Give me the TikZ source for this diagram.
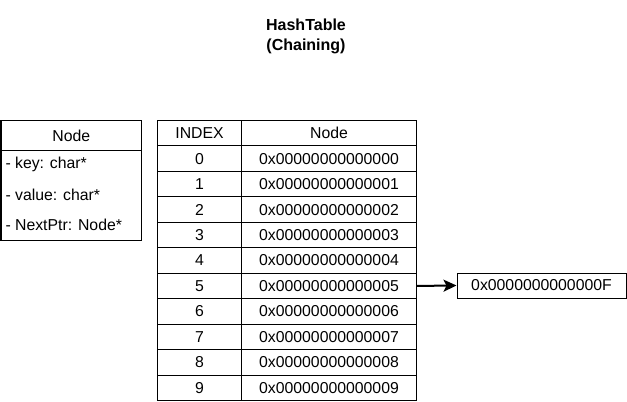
\documentclass[tikz,border=0pt]{standalone}
\usepackage{fontspec}
\setmainfont{Liberation Sans}
\usetikzlibrary{arrows.meta}
\begin{document}
\begin{tikzpicture}[x=1bp,y=-1bp,
  line width=1bp,
  txt/.style={font=\fontsize{15.8bp}{19bp}\selectfont, inner sep=0pt},
  cell/.style={draw=black, txt, minimum height=25.45bp, anchor=north west},
  idxcell/.style={cell, minimum width=84bp},
  valcell/.style={cell, minimum width=175bp},
  field/.style={txt, anchor=west},
  ptrarrow/.style={-{Stealth[length=13bp,width=12bp,inset=3bp]}, line width=2bp}
]
\useasboundingbox (0,0) rectangle (627,401);

% title
\node[font=\bfseries\fontsize{16bp}{20bp}\selectfont, align=center, inner sep=0pt] (title) at (306,36) {HashTable\\(Chaining)};

% struct Node description
\node[draw=black, txt, minimum width=140.5bp, minimum height=30bp, anchor=north west] (nodehead) at (0.5,120) {Node};
\node[draw=black, minimum width=140.5bp, minimum height=90bp, anchor=north west, inner sep=0pt] (nodebody) at (0.5,150) {};
\node[field] (fkey) at (5,164) {- key: char*};
\node[field] (fval) at (5,195) {- value: char*};
\node[field] (fnext) at (5,225) {- NextPtr: Node*};

% hash table
\node[idxcell] (hidx) at (157,120) {INDEX};
\node[valcell] (hval) at (241,120) {Node};
\foreach \i in {0,...,9}{
  \node[idxcell] (i\i) at (157,{120+25.45*(\i+1)}) {\i};
  \node[valcell] (v\i) at (241,{120+25.45*(\i+1)}) {0x0000000000000\i};
}

% chained entry
\node[draw=black, txt, minimum width=169bp, minimum height=25bp] (chain) at (541.5,285.5) {0x0000000000000F};
\draw[ptrarrow] (v5.east) -- (chain.west);
\end{tikzpicture}
\end{document}
